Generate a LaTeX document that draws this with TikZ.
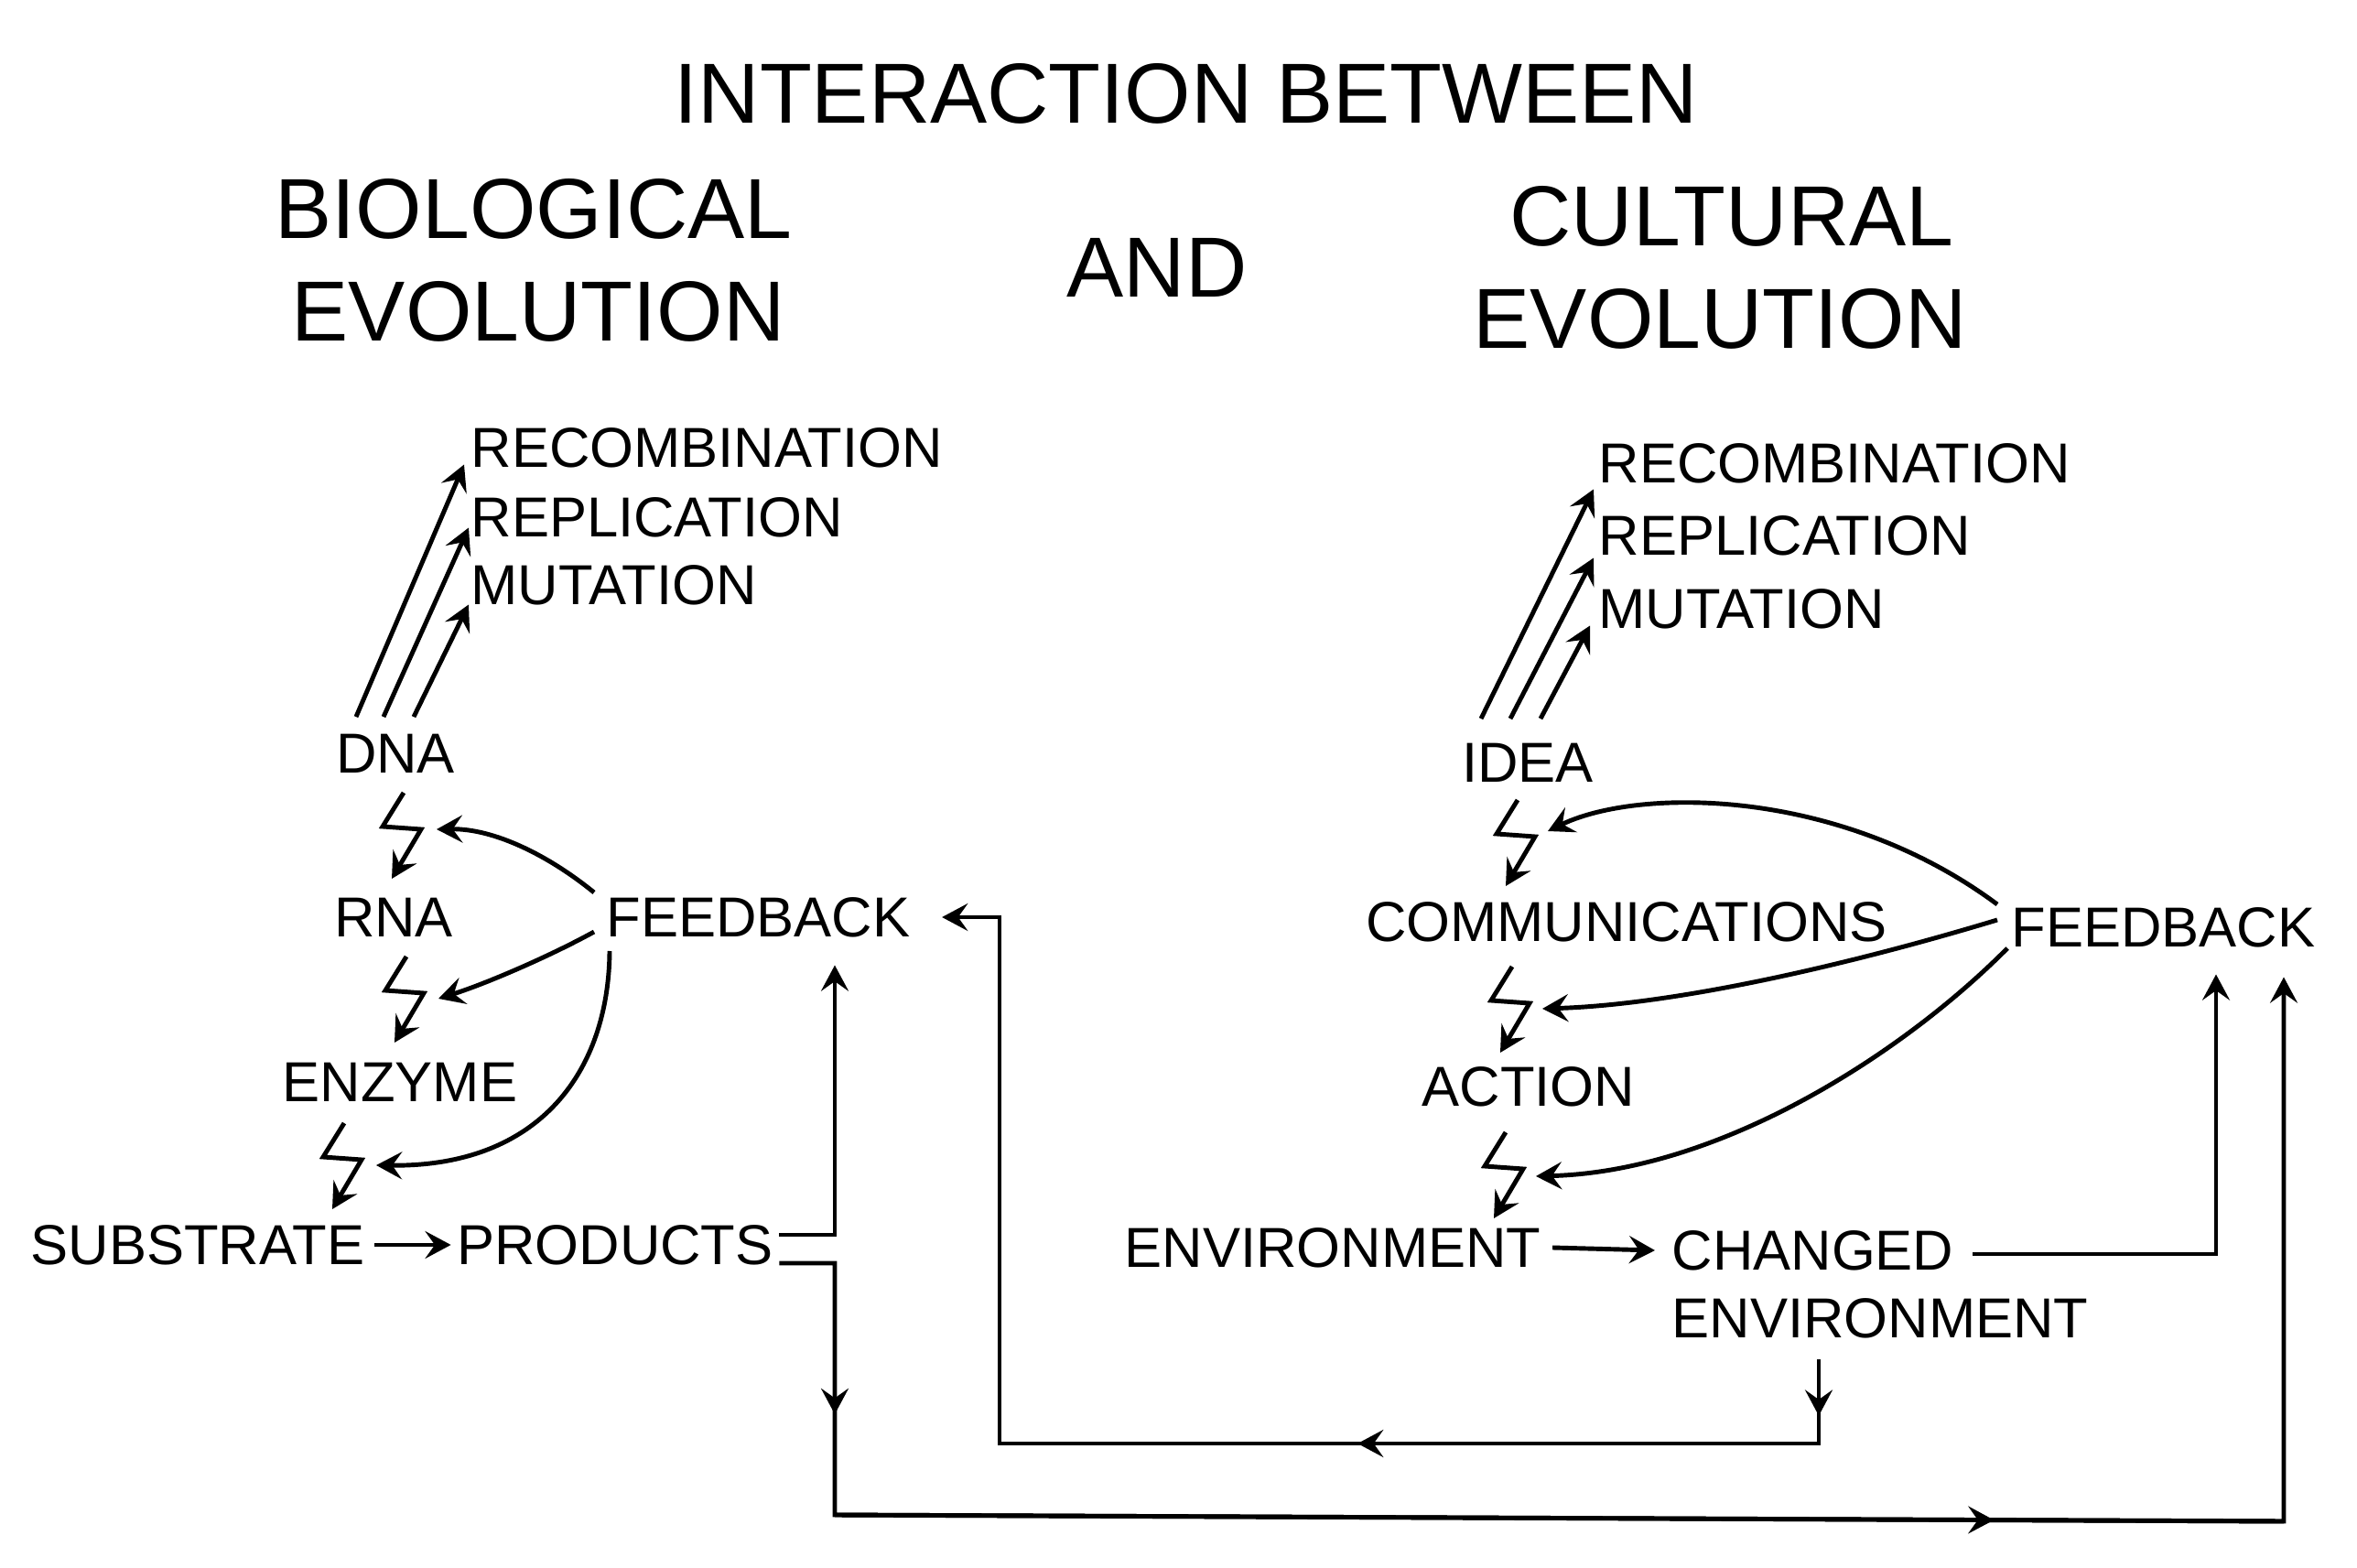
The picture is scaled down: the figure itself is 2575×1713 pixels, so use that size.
\documentclass[tikz,border=0pt]{standalone}
\usepackage{fontspec}
\setmainfont{Liberation Sans}
\usetikzlibrary{arrows.meta,calc,decorations.markings}
\begin{document}
\begin{tikzpicture}[x=0.01cm,y=-0.01cm,
  lbl/.style={inner sep=0pt, font=\fontsize{17.5}{20}\selectfont},
  big/.style={inner sep=0pt, font=\fontsize{26.5}{30}\selectfont},
  ln/.style={line width=1.4pt},
  arr/.style={ln, -{Stealth[length=8pt,width=8.5pt,inset=3pt]}},
  marr/.style={ln, postaction={decorate}, decoration={markings, mark=at position #1 with {\arrow{Stealth[length=8pt,width=8.5pt,inset=3pt]}}}},
  bolt/.pic={\draw[arr] (0,0) -- (-23,37) -- (19,40) coordinate (-c) -- (-13,94);}
]
\useasboundingbox (0,0) rectangle (2575,1713);

% headings
\node[big] (title) at (1296,102) {INTERACTION BETWEEN};
\node[big] (bio) at (583,228) {BIOLOGICAL};
\node[big] (evoL) at (588,340) {EVOLUTION};
\node[big] (and) at (1264,292) {AND};
\node[big] (cult) at (1892,236) {CULTURAL};
\node[big] (evoR) at (1879,348) {EVOLUTION};

% left side
\node[lbl,anchor=west] (recL) at (514,489) {RECOMBINATION};
\node[lbl,anchor=west] (repL) at (514,565) {REPLICATION};
\node[lbl,anchor=west] (mutL) at (514,639) {MUTATION};
\node[lbl] (dna) at (432,823) {DNA};
\node[lbl] (rna) at (430,1002) {RNA};
\node[lbl,anchor=west] (fbL) at (662,1002) {FEEDBACK};
\node[lbl] (enz) at (437,1182) {ENZYME};
\node[lbl] (sub) at (216,1360) {SUBSTRATE};
\node[lbl] (prod) at (672,1360) {PRODUCTS};

% right side
\node[lbl,anchor=west] (recR) at (1746,506) {RECOMBINATION};
\node[lbl,anchor=west] (repR) at (1746,585) {REPLICATION};
\node[lbl,anchor=west] (mutR) at (1746,665) {MUTATION};
\node[lbl] (idea) at (1669,833) {IDEA};
\node[lbl] (comm) at (1777,1007) {COMMUNICATIONS};
\node[lbl,anchor=west] (fbR) at (2197,1013) {FEEDBACK};
\node[lbl] (act) at (1670,1187) {ACTION};
\node[lbl,anchor=west] (env) at (1228,1363) {ENVIRONMENT};
\node[lbl,anchor=west] (chg) at (1826,1366) {CHANGED};
\node[lbl,anchor=west] (chg2) at (1826,1440) {ENVIRONMENT};

% DNA arrows
\draw[arr] ($(dna.north)+(-43,-18)$) -- ($(recL.south west)+(-7,-4)$);
\draw[arr] ($(dna.north)+(-13,-18)$) -- ($(repL.south west)+(-2,-11)$);
\draw[arr] ($(dna.north)+(20,-18)$) -- ($(mutL.south west)+(-2,-1)$);

% IDEA arrows
\draw[arr] ($(idea.north)+(-51,-26)$) -- ($(recR.south west)+(-5,6)$);
\draw[arr] ($(idea.north)+(-19,-26)$) -- ($(repR.south west)+(-5,2)$);
\draw[arr] ($(idea.north)+(14,-26)$) -- ($(mutR.south west)+(-9,-4)$);

% bolts
\pic (bL1) at (441,866) {bolt};
\pic (bL2) at (444,1045) {bolt};
\pic (bL3) at (376,1227) {bolt};
\pic (bR1) at (1658,874) {bolt};
\pic (bR2) at (1652,1056) {bolt};
\pic (bR3) at (1645,1237) {bolt};

% left feedback curves
\draw[arr] ($(fbL.west)+(-13,-27)$) .. controls (600,935) and (540,905) .. ($(bL1-c)+(17,0)$);
\draw[arr] ($(fbL.west)+(-13,16)$) .. controls (600,1045) and (530,1075) .. ($(bL2-c)+(16,6)$);
\draw[arr] ($(fbL.west)+(4,37)$) .. controls (665,1170) and (590,1275) .. ($(bL3-c)+(16,6)$);

% right feedback curves
\draw[arr] ($(fbR.west)+(-15,-25)$) .. controls (2010,860) and (1790,860) .. ($(bR1-c)+(14,-6)$);
\draw[arr] ($(fbR.west)+(-15,-8)$) .. controls (2000,1060) and (1820,1098) .. ($(bR2-c)+(14,6)$);
\draw[arr] ($(fbR.west)+(-4,23)$) .. controls (2080,1150) and (1880,1280) .. ($(bR3-c)+(14,8)$);

% horizontal arrows
\draw[arr] ($(sub.east)+(10,0)$) -- ($(prod.west)+(-6,0)$);
\draw[arr] ($(env.east)+(12,0)$) -- ($(chg.west)+(-18,0)$);

% products connectors
\coordinate (pj1) at (912,1349);
\coordinate (pj2) at (912,1380);
\coordinate (bl) at (912,1655);
\coordinate (br) at (2495,1662);
\draw[arr] ($(prod.east)+(6,-11)$) -- (pj1) -- ($(pj1 |- fbL.south)+(0,30)$);
\draw[arr] ($(prod.east)+(6,20)$) -- (pj2) -- (bl) -- (br) -- ($(br |- fbR.south)+(0,32)$);
\draw[marr=0.6] (pj2) -- (bl);
\draw[marr=0.8] (bl) -- (br);

% changed environment loop back to biological feedback
\coordinate (ce) at (1987,1485);
\coordinate (ib) at (1987,1577);
\coordinate (il) at (1092,1577);
\draw[arr] (ce) -- (ib) -- (il) -- (il |- fbL.east) -- ($(fbL.east)+(34,0)$);
\draw[marr=0.67] (ce) -- (ib);
\draw[marr=0.563] (ib) -- (il);

% changed environment to cultural feedback
\coordinate (cr) at (2421,1370);
\draw[arr] ($(chg.east)+(20,4)$) -- (cr) -- ($(cr |- fbR.south)+(0,29)$);
\end{tikzpicture}
\end{document}
